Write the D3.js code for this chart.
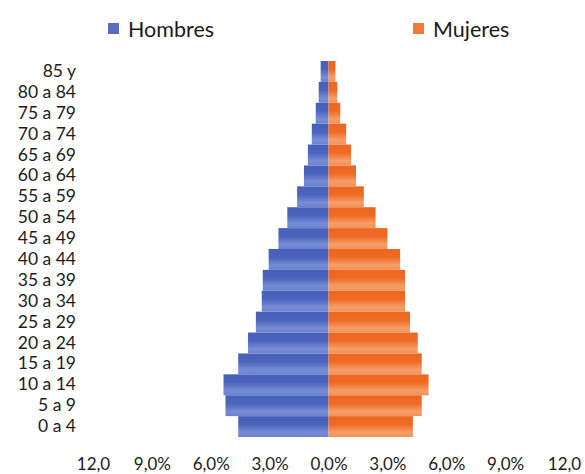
<!DOCTYPE html>
<html>
<head>
<meta charset="utf-8">
<script src="https://cdn.jsdelivr.net/npm/d3@7"></script>
<style>
  body { margin: 0; background: #fff; }
  svg { display: block; font-family: Lato, "Open Sans", sans-serif; }
</style>
</head>
<body>
<svg id="chart" width="585" height="474"></svg>
<script>
// Age groups, bottom to top
const ageGroups = ["0 a 4", "5 a 9", "10 a 14", "15 a 19", "20 a 24", "25 a 29",
  "30 a 34", "35 a 39", "40 a 44", "45 a 49", "50 a 54", "55 a 59",
  "60 a 64", "65 a 69", "70 a 74", "75 a 79", "80 a 84", "85 y"];

// Share of total population (%) per age group
const hombres = [4.6, 5.25, 5.35, 4.6, 4.1, 3.7, 3.4, 3.35, 3.05, 2.55,
  2.1, 1.6, 1.25, 1.05, 0.85, 0.65, 0.5, 0.4];
const mujeres = [4.3, 4.75, 5.1, 4.75, 4.55, 4.15, 3.9, 3.9, 3.65, 3.0,
  2.4, 1.8, 1.4, 1.15, 0.9, 0.6, 0.45, 0.35];

const seriesNames = ["Hombres", "Mujeres"];
const xTicks = [-12, -9, -6, -3, 0, 3, 6, 9, 12];
const xTickLabels = ["12,0", "9,0%", "6,0%", "3,0%", "0,0%", "3,0%", "6,0%", "9,0%", "12,0"];

const svg = d3.select("#chart");

const x = d3.scaleLinear().domain([-12, 12]).range([93, 564]);
const y = d3.scaleBand().domain(ageGroups.slice().reverse()).range([61, 437]).padding(0);

// Gradients give each bar its darker upper / lighter lower shading
const defs = svg.append("defs");
const gradients = [
  { id: "g-hombres", stops: [["0", "#4660ba"], ["0.4", "#4b65bd"], ["0.78", "#778cd5"], ["1", "#6b81cc"]] },
  { id: "g-mujeres", stops: [["0", "#ee6620"], ["0.4", "#ef6b25"], ["0.78", "#f69e68"], ["1", "#f3905a"]] }
];
gradients.forEach(g => {
  const lg = defs.append("linearGradient").attr("id", g.id)
    .attr("x1", 0).attr("y1", 0).attr("x2", 0).attr("y2", 1);
  g.stops.forEach(s => lg.append("stop").attr("offset", s[0]).attr("stop-color", s[1]));
});

const rows = ageGroups.map((g, i) => ({ group: g, h: hombres[i], m: mujeres[i] }));

svg.append("g").selectAll("rect").data(rows).join("rect")
  .attr("x", d => x(-d.h))
  .attr("y", d => y(d.group))
  .attr("width", d => x(0) - x(-d.h))
  .attr("height", y.bandwidth())
  .attr("fill", "url(#g-hombres)");

svg.append("g").selectAll("rect").data(rows).join("rect")
  .attr("x", x(0))
  .attr("y", d => y(d.group))
  .attr("width", d => x(d.m) - x(0))
  .attr("height", y.bandwidth())
  .attr("fill", "url(#g-mujeres)");

// Category axis
const yAxis = svg.append("g").attr("transform", "translate(76,0)")
  .call(d3.axisLeft(y).tickSize(0).tickPadding(0));
yAxis.select(".domain").remove();
yAxis.selectAll("text").attr("font-size", 17.5).attr("font-family", "Lato, sans-serif").attr("fill", "#1c1c1c");

// Value axis
const xAxis = svg.append("g").attr("transform", "translate(0,457.5)")
  .call(d3.axisBottom(x).tickValues(xTicks).tickSize(0).tickPadding(0)
    .tickFormat((d, i) => xTickLabels[i]));
xAxis.select(".domain").remove();
xAxis.selectAll("text").attr("font-size", 17).attr("font-family", "Lato, sans-serif").attr("fill", "#1c1c1c");

// Legend
const legendItems = [
  { name: seriesNames[0], color: "#5a6cc0", x: 108 },
  { name: seriesNames[1], color: "#f07a3a", x: 413 }
];
const legend = svg.append("g").selectAll("g").data(legendItems).join("g")
  .attr("transform", d => `translate(${d.x},0)`);
legend.append("rect").attr("x", 0).attr("y", 23).attr("width", 11).attr("height", 11)
  .attr("fill", d => d.color);
legend.append("text").attr("x", 20).attr("y", 37)
  .attr("font-size", 21.5).attr("fill", "#1a1a1a")
  .text(d => d.name);
</script>
</body>
</html>
